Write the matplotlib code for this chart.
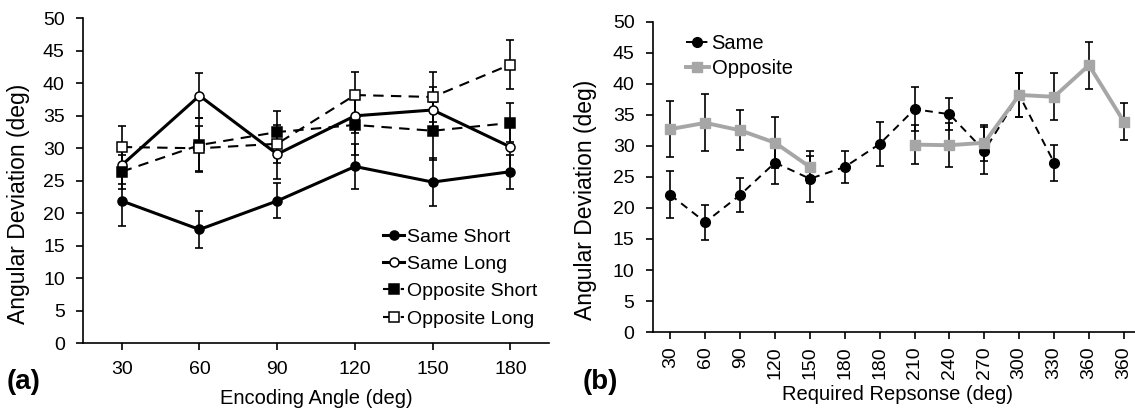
import numpy as np
import matplotlib
matplotlib.use('Agg')
import matplotlib.pyplot as plt

plt.rcParams['font.family'] = ['Liberation Sans', 'DejaVu Sans']

# panel (a): encoding angle
angles = [30, 60, 90, 120, 150, 180]
same_short = [21.9, 17.5, 21.9, 27.2, 24.8, 26.4]
same_short_err = [3.8, 2.8, 2.7, 3.5, 3.7, 2.6]
same_long = [27.4, 38.1, 29.1, 35.0, 35.9, 30.2]
same_long_err = [2.9, 3.5, 3.8, 2.6, 3.5, 3.6]
opp_short = [26.4, 30.5, 32.5, 33.6, 32.7, 33.9]
opp_short_err = [2.6, 4.1, 3.2, 4.6, 4.5, 3.0]
opp_long = [30.2, 30.0, 30.7, 38.2, 37.9, 42.9]
opp_long_err = [3.2, 3.5, 2.9, 3.5, 3.8, 3.8]

# panel (b): required response
resp_labels = ['30', '60', '90', '120', '150', '180', '180', '210', '240',
               '270', '300', '330', '360', '360']
same_resp = [22.1, 17.7, 22.1, 27.3, 24.7, 26.6, 30.3, 35.9, 35.1, 29.2,
             38.2, 27.3, np.nan, np.nan]
same_resp_err = [3.8, 2.8, 2.7, 3.5, 3.7, 2.6, 3.6, 3.5, 2.6, 3.8, 3.5, 2.9,
                 np.nan, np.nan]
opp_resp = [32.7, 33.7, 32.5, 30.5, 26.6, np.nan, np.nan, 30.2, 30.1, 30.5,
            38.2, 37.9, 43.0, 33.9]
opp_resp_err = [4.5, 4.6, 3.2, 4.1, 2.6, np.nan, np.nan, 3.2, 3.5, 2.9,
                3.5, 3.8, 3.8, 3.0]

fig = plt.figure(figsize=(11.35, 4.09), dpi=100)
ax1 = fig.add_axes([0.073, 0.161, 0.411, 0.794])
ax2 = fig.add_axes([0.575, 0.188, 0.425, 0.759])

ekw = dict(fmt='none', ecolor='black', elinewidth=1.2, capsize=3,
           capthick=1.2)

# left panel
series_a = [
    (same_short, same_short_err, '-', 'o', 'black', 'Same Short'),
    (same_long, same_long_err, '-', 'o', 'white', 'Same Long'),
    (opp_short, opp_short_err, '--', 's', 'black', 'Opposite Short'),
    (opp_long, opp_long_err, '--', 's', 'white', 'Opposite Long'),
]
for vals, err, ls, mk, fc, lab in series_a:
    lw = 2.2 if ls == '-' else 1.5
    line, = ax1.plot(angles, vals, color='black', lw=lw, ls=ls, marker=mk,
                     ms=6.5, mfc=fc, mec='black', mew=1.1, label=lab,
                     zorder=3)
    if ls == '--':
        line.set_dashes((5, 3.5))
    ax1.errorbar(angles, vals, yerr=err, zorder=2, **ekw)

ax1.set_xlim(15, 195)
ax1.set_ylim(0, 50)
ax1.set_xticks(angles)
ax1.set_yticks(range(0, 51, 5))
ax1.set_xlabel('Encoding Angle (deg)', fontsize=14.5)
ax1.set_ylabel('Angular Deviation (deg)', fontsize=16.5)
ax1.xaxis.set_label_coords(0.5, -0.14)
ax1.yaxis.set_label_coords(-0.114, 0.43)
ax1.legend(loc='lower right', bbox_to_anchor=(1.0, 0.012), frameon=False,
           fontsize=14, handlelength=1.1, handletextpad=0.15,
           labelspacing=0.5, numpoints=1, borderaxespad=0.2)

# right panel
x2 = np.arange(len(resp_labels))
ax2.errorbar(x2, same_resp, yerr=same_resp_err, zorder=2, **ekw)
ax2.errorbar(x2, opp_resp, yerr=opp_resp_err, zorder=2, **ekw)
ax2.plot(x2, same_resp, color='black', lw=1.4, ls='--', dashes=(4, 3),
         marker='o', ms=7, label='Same', zorder=3)
ax2.plot(x2, opp_resp, color='#a6a6a6', lw=2.8, marker='s', ms=6.5,
         label='Opposite', zorder=3)
ax2.set_xlim(-0.51, 13.32)
ax2.set_ylim(0, 50)
ax2.set_xticks(x2)
ax2.set_xticklabels(resp_labels, rotation=90)
ax2.set_yticks(range(0, 51, 5))
ax2.set_xlabel('Required Repsonse (deg)', fontsize=14.5)
ax2.set_ylabel('Angular Deviation (deg)', fontsize=16.5)
ax2.xaxis.set_label_coords(0.508, -0.17)
ax2.yaxis.set_label_coords(-0.116, 0.425)
ax2.legend(loc='upper left', bbox_to_anchor=(0.045, 1.0), frameon=False,
           fontsize=14.5, handlelength=1.1, handletextpad=0.15,
           labelspacing=0.3, numpoints=1, borderaxespad=0.2)

for ax in (ax1, ax2):
    for s in ('top', 'right'):
        ax.spines[s].set_visible(False)
    for s in ('left', 'bottom'):
        ax.spines[s].set_linewidth(1.2)
    ax.tick_params(direction='out', length=5, width=1.2, labelsize=14)
    ax.tick_params(axis='y', pad=8)
ax1.tick_params(axis='x', pad=8)
ax2.tick_params(axis='x', pad=5)

fig.text(0.006, 0.05, '(a)', fontsize=20, fontweight='bold')
fig.text(0.513, 0.05, '(b)', fontsize=20, fontweight='bold')

fig.savefig('out.png', dpi=100)
